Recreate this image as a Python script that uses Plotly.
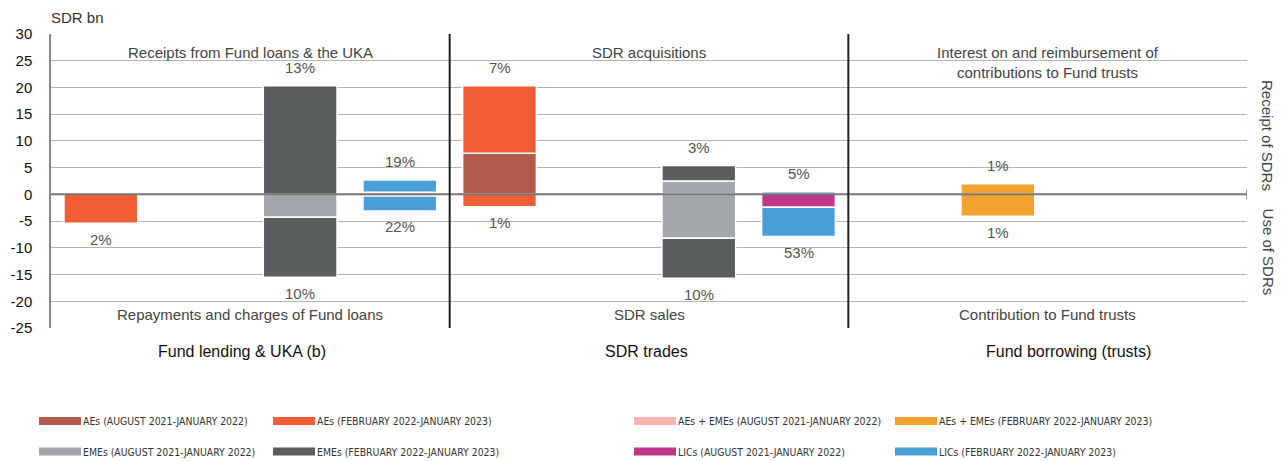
import plotly.graph_objects as go

# ---------------- data ----------------
groups = ["Fund lending & UKA (b)", "SDR trades", "Fund borrowing (trusts)"]
country_groups = ["AEs", "AEs + EMEs", "EMEs", "LICs"]

# SDR bn, per group (receipts positive, uses negative)
aes_aug_receipts = [0.0, 7.7, 0.0]
aes_aug_uses = [0.0, 0.0, 0.0]
aes_feb_receipts = [0.0, 12.6, 0.0]
aes_feb_uses = [-5.4, -2.3, 0.0]
aeseme_aug_receipts = [0.0, 0.0, 0.0]
aeseme_aug_uses = [0.0, 0.0, 0.0]
aeseme_feb_receipts = [0.0, 0.0, 2.0]
aeseme_feb_uses = [0.0, 0.0, -4.1]
emes_aug_receipts = [0.0, 2.5, 0.0]
emes_aug_uses = [-4.3, -8.2, 0.0]
emes_feb_receipts = [20.3, 2.9, 0.0]
emes_feb_uses = [-11.2, -7.5, 0.0]
lics_aug_receipts = [0.4, 0.0, 0.0]
lics_aug_uses = [-0.3, -2.4, 0.0]
lics_feb_receipts = [2.3, 0.5, 0.0]
lics_feb_uses = [-2.8, -5.5, 0.0]

share_receipts = {
    "AEs": ["", "7%", ""],
    "AEs + EMEs": ["", "", "1%"],
    "EMEs": ["13%", "3%", ""],
    "LICs": ["19%", "5%", ""],
}
share_uses = {
    "AEs": ["2%", "1%", ""],
    "AEs + EMEs": ["", "", "1%"],
    "EMEs": ["10%", "10%", ""],
    "LICs": ["22%", "53%", ""],
}

panel_top = ["Receipts from Fund loans & the UKA", "SDR acquisitions",
             "Interest on and reimbursement of<br>contributions to Fund trusts"]
panel_bottom = ["Repayments and charges of Fund loans", "SDR sales", "Contribution to Fund trusts"]

y_ticks = [30, 25, 20, 15, 10, 5, 0, -5, -10, -15, -20, -25]

series = [
    ("AEs (AUGUST 2021-JANUARY 2022)", "AEs", aes_aug_receipts, aes_aug_uses, "#b35b4b"),
    ("AEs (FEBRUARY 2022-JANUARY 2023)", "AEs", aes_feb_receipts, aes_feb_uses, "#f15e35"),
    ("AEs + EMEs (AUGUST 2021-JANUARY 2022)", "AEs + EMEs", aeseme_aug_receipts, aeseme_aug_uses, "#f8b4b0"),
    ("AEs + EMEs (FEBRUARY 2022-JANUARY 2023)", "AEs + EMEs", aeseme_feb_receipts, aeseme_feb_uses, "#f2a02e"),
    ("EMEs (AUGUST 2021-JANUARY 2022)", "EMEs", emes_aug_receipts, emes_aug_uses, "#a3a7a9"),
    ("EMEs (FEBRUARY 2022-JANUARY 2023)", "EMEs", emes_feb_receipts, emes_feb_uses, "#5a5e5f"),
    ("LICs (AUGUST 2021-JANUARY 2022)", "LICs", lics_aug_receipts, lics_aug_uses, "#c0378a"),
    ("LICs (FEBRUARY 2022-JANUARY 2023)", "LICs", lics_feb_receipts, lics_feb_uses, "#4a9ed6"),
]

# ---------------- figure ----------------
FONT = "Liberation Sans, Arial, sans-serif"
NARROW = "Liberation Sans Narrow, Arial Narrow, DejaVu Sans Condensed, sans-serif"
W, H = 1283, 461
ML, MR, MT, MB = 51, 36, 34, 133
PW, PH = W - ML - MR, H - MT - MB


def px_x(px):
    return (px - ML) / PW


def px_y(py):
    return (H - MB - py) / PH


def slot(gi, cg):
    return gi * 4 + country_groups.index(cg) + 0.5


fig = go.Figure()

for name, cg, rec, use, color in series:
    for vals in (rec, use):
        xs, ys = [], []
        for gi, v in enumerate(vals):
            if v != 0:
                xs.append(slot(gi, cg))
                ys.append(v)
        if xs:
            fig.add_trace(go.Bar(x=xs, y=ys, name=name, width=0.74,
                                 marker=dict(color=color, line=dict(color="white", width=1.5)),
                                 showlegend=False, hoverinfo="y"))

annotations = []
# percentage labels
for cg in country_groups:
    for gi in range(len(groups)):
        top = sum(s[2][gi] for s in series if s[1] == cg)
        bot = sum(s[3][gi] for s in series if s[1] == cg)
        if share_receipts[cg][gi]:
            annotations.append(dict(x=slot(gi, cg), y=top, text=share_receipts[cg][gi],
                                    showarrow=False, yanchor="middle", yshift=18,
                                    font=dict(size=15, color="#555", family=FONT)))
        if share_uses[cg][gi]:
            annotations.append(dict(x=slot(gi, cg), y=bot, text=share_uses[cg][gi],
                                    showarrow=False, yanchor="middle", yshift=-16,
                                    font=dict(size=15, color="#555", family=FONT)))

for gi in range(len(groups)):
    annotations.append(dict(x=gi * 4 + 2, y=30, text=panel_top[gi], showarrow=False,
                            yanchor="top", yshift=-8,
                            font=dict(size=15, color="#444", family=FONT)))
    annotations.append(dict(x=gi * 4 + 2, y=-25, text=panel_bottom[gi], showarrow=False,
                            yanchor="bottom", yshift=3,
                            font=dict(size=15, color="#444", family=FONT)))

group_xshift = [-8, -3, 21]
for gi, g in enumerate(groups):
    annotations.append(dict(x=gi * 4 + 2, xref="x", y=0, yref="paper", text=g,
                            showarrow=False, yanchor="middle", yshift=-23, xshift=group_xshift[gi],
                            font=dict(size=16, color="#111", family=FONT)))

annotations.append(dict(x=0, xref="paper", y=1, yref="paper", text="SDR bn", showarrow=False,
                        xanchor="left", yanchor="middle", yshift=17, xshift=-2,
                        font=dict(size=15, color="#333", family=FONT)))
annotations.append(dict(x=1, xref="paper", y=11.1, yref="y", text="Receipt of SDRs", showarrow=False,
                        textangle=90, xanchor="center", xshift=21,
                        font=dict(size=15, color="#444", family=FONT)))
annotations.append(dict(x=1, xref="paper", y=-10.7, yref="y", text="Use of SDRs", showarrow=False,
                        textangle=90, xanchor="center", xshift=21,
                        font=dict(size=15, color="#444", family=FONT)))

shapes = []
# zero line drawn above the bars
shapes.append(dict(type="line", x0=0, x1=12, y0=0, y1=0, xref="x", yref="y",
                   line=dict(color="#777", width=2)))
# panel dividers
for xd in (4, 8):
    shapes.append(dict(type="line", x0=xd, x1=xd, y0=-25, y1=30, xref="x", yref="y",
                       line=dict(color="#222", width=2)))
# small tick at the right end of the zero line
shapes.append(dict(type="line", x0=12, x1=12, y0=-0.9, y1=0.9, xref="x", yref="y",
                   line=dict(color="#777", width=1.5)))

# legend (manual, 4 columns x 2 rows)
col_x = [39, 273, 634, 895]
row_y = [421, 451.5]
for i, (name, cg, rec, use, color) in enumerate(series):
    r, c = divmod(i, 4)
    x0 = col_x[c]
    yc = row_y[r]
    shapes.append(dict(type="rect", xref="paper", yref="paper",
                       x0=px_x(x0), x1=px_x(x0 + 42), y0=px_y(yc + 4), y1=px_y(yc - 4),
                       fillcolor=color, line=dict(width=0)))
    annotations.append(dict(xref="paper", yref="paper", x=px_x(x0 + 42), y=px_y(yc), text=name,
                            showarrow=False, xanchor="left", yanchor="middle",
                            font=dict(size=10.4, color="#333", family=NARROW)))

fig.update_layout(
    width=W, height=H,
    margin=dict(l=ML, r=MR, t=MT, b=MB),
    barmode="relative",
    plot_bgcolor="white", paper_bgcolor="white",
    showlegend=False,
    font=dict(family=FONT, color="#111"),
    xaxis=dict(range=[0, 12], showgrid=False, zeroline=False, showticklabels=False,
               showline=False, fixedrange=True),
    yaxis=dict(range=[-25, 30], tickvals=y_ticks, ticktext=[str(v) for v in y_ticks],
               showgrid=True, gridcolor="#b4b4b4", gridwidth=1,
               zeroline=False,
               showline=True, linecolor="#888", linewidth=1.5,
               ticks="", ticklabelstandoff=14,
               tickfont=dict(size=15, color="#111", family=FONT), fixedrange=True),
    annotations=annotations,
    shapes=shapes,
)

fig.write_html("out.html", config={"displayModeBar": False},
               post_script="document.body.style.margin='0px';")
